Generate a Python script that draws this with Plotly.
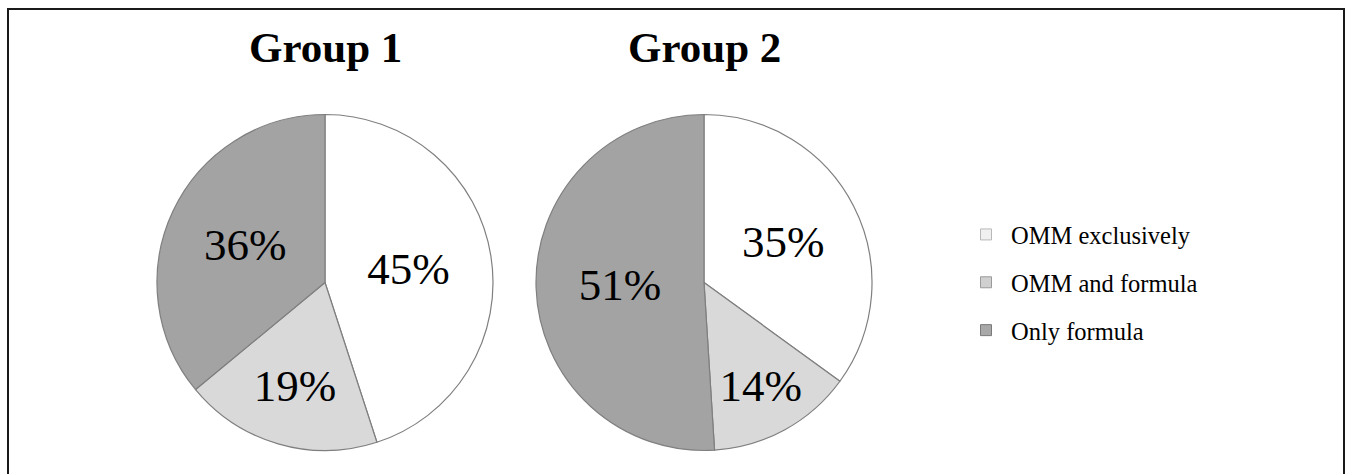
import plotly.graph_objects as go

categories = ["OMM exclusively", "OMM and formula", "Only formula"]
group1_values = [45, 19, 36]
group2_values = [35, 14, 51]
group_titles = ["Group 1", "Group 2"]

W, H = 1345, 474
slice_colors = ["#ffffff", "#d9d9d9", "#a3a3a3"]
legend_fill = ["#f0f0f0", "#d0d0d0", "#a8a8a8"]
legend_line = ["#b8b8b8", "#9a9a9a", "#7a7a7a"]
serif = "Liberation Serif"

def px_x(v):
    return v / W

def px_y(v):
    return (H - v) / H

pie_domains = [
    dict(x=[px_x(157), px_x(493)], y=[px_y(451), px_y(114)]),
    dict(x=[px_x(536), px_x(872)], y=[px_y(451), px_y(114)]),
]

label_font = dict(family=serif, size=45, color="#000000")

fig = go.Figure()
for vals, dom in zip([group1_values, group2_values], pie_domains):
    fig.add_trace(go.Pie(
        labels=categories, values=vals, sort=False, direction="clockwise",
        rotation=0, domain=dom, showlegend=False,
        marker=dict(colors=slice_colors, line=dict(color="#7f7f7f", width=1.2)),
        texttemplate="%{value}%",
        textposition="inside", insidetextorientation="horizontal",
        textfont=label_font, insidetextfont=label_font,
        hoverinfo="label+percent",
    ))

for i, cat in enumerate(categories):
    fig.add_trace(go.Scatter(
        x=[None], y=[None], mode="markers", name=cat, legendgroup=cat,
        marker=dict(symbol="square", size=11, color=legend_fill[i],
                    line=dict(color=legend_line[i], width=1)),
    ))

for title, dom in zip(group_titles, pie_domains):
    fig.add_annotation(
        x=(dom["x"][0] + dom["x"][1]) / 2, y=px_y(48), xref="paper", yref="paper",
        text="<b>" + title + "</b>", showarrow=False,
        font=dict(family=serif, size=43, color="#000000"),
        xanchor="center", yanchor="middle",
    )

fig.add_shape(type="path", xref="paper", yref="paper",
              path=f"M {px_x(8)} {px_y(490)} L {px_x(8)} {px_y(9)} L {px_x(1344)} {px_y(9)} L {px_x(1344)} {px_y(490)}",
              line=dict(color="#1a1a1a", width=2))

fig.update_layout(
    width=W, height=H,
    margin=dict(l=0, r=0, t=0, b=0),
    paper_bgcolor="#ffffff", plot_bgcolor="#ffffff",
    xaxis=dict(visible=False), yaxis=dict(visible=False),
    legend=dict(
        x=px_x(961), y=px_y(212), xanchor="left", yanchor="top",
        font=dict(family=serif, size=24.5, color="#000000"),
        tracegroupgap=13, itemwidth=40, bgcolor="rgba(0,0,0,0)",
    ),
)

fig.write_html("out.html")
